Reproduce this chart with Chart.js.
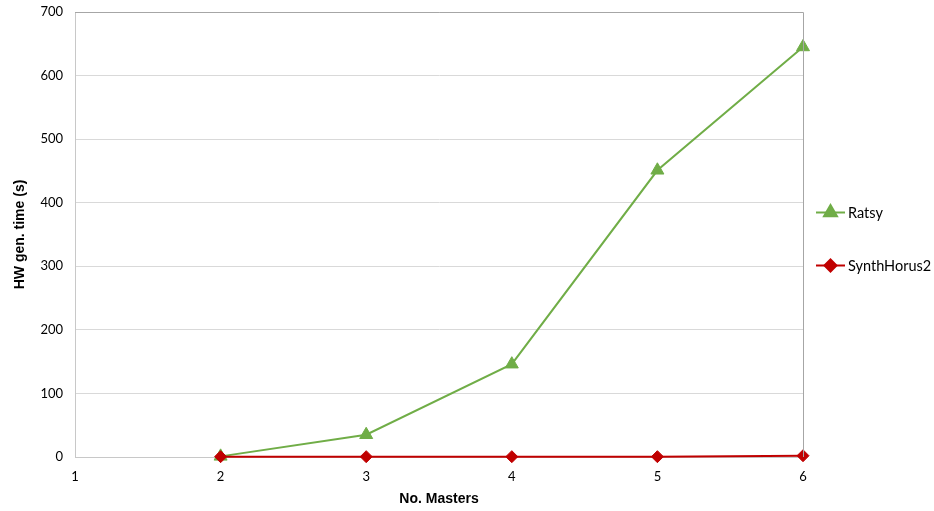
<!DOCTYPE html>
<html>
<head>
<meta charset="utf-8">
<script src="https://cdn.jsdelivr.net/npm/chart.js@4"></script>
<style>
  html, body { margin: 0; padding: 0; background: #fff; }
  #wrap { width: 934px; height: 511px; }
</style>
</head>
<body>
<div id="wrap"><canvas id="hw-chart"></canvas></div>
<script>
// number of masters on the x axis
const masters = [2, 3, 4, 5, 6];
// HW generation time in seconds
const ratsyTimes = [1, 35, 146, 451, 645];
const synthHorusTimes = [0.5, 0.5, 0.5, 0.5, 2];
const seriesNames = ['Ratsy', 'SynthHorus2'];

const GREEN = '#70ad47';
const RED = '#c00000';
const tickFont = { family: 'Lato, "Noto Sans", sans-serif', size: 13 };
const titleFont = { family: '"Liberation Sans", Arial, sans-serif', size: 14, weight: 'bold' };

function toPoints(xs, ys) {
    return xs.map(function (x, i) { return { x: x, y: ys[i] }; });
}

// top + right frame lines of the plot area
const frame = {
    id: 'frame',
    afterDraw: function (chart) {
        const a = chart.chartArea;
        const ctx = chart.ctx;
        ctx.save();
        ctx.strokeStyle = '#a6a6a6';
        ctx.lineWidth = 1;
        ctx.beginPath();
        ctx.moveTo(a.left, a.top + 0.5);
        ctx.lineTo(a.right + 0.5, a.top + 0.5);
        ctx.lineTo(a.right + 0.5, a.bottom);
        ctx.stroke();
        ctx.restore();
    }
};

// excel style legend: short line with the marker in the middle
const sideLegend = {
    id: 'sideLegend',
    afterDraw: function (chart) {
        const a = chart.chartArea;
        const ctx = chart.ctx;
        const gap = 53;
        const sets = chart.data.datasets;
        const y0 = (a.top + a.bottom) / 2 - 22;
        ctx.save();
        sets.forEach(function (ds, i) {
            const y = y0 + i * gap;
            const x = a.right + 13;
            ctx.strokeStyle = ds.borderColor;
            ctx.lineWidth = 2;
            ctx.beginPath();
            ctx.moveTo(x, y);
            ctx.lineTo(x + 29, y);
            ctx.stroke();
            Chart.helpers.drawPoint(ctx, {
                pointStyle: ds.pointStyle,
                radius: ds.pointRadius,
                rotation: 0,
                borderWidth: 1
            }, x + 14.5, y);
            ctx.fillStyle = ds.borderColor;
            ctx.fill();
            ctx.fillStyle = '#000';
            ctx.font = '14.5px ' + tickFont.family;
            ctx.textBaseline = 'middle';
            ctx.textAlign = 'left';
            ctx.fillText(ds.label, x + 32, y + 1);
        });
        ctx.restore();
    }
};

const ctx = document.getElementById('hw-chart').getContext('2d');
new Chart(ctx, {
    type: 'line',
    data: {
        datasets: [{
            label: seriesNames[0],
            data: toPoints(masters, ratsyTimes),
            borderColor: GREEN,
            backgroundColor: GREEN,
            borderWidth: 2,
            pointStyle: 'triangle',
            pointRadius: 7.5,
            pointBorderWidth: 1,
            order: 1,
            clip: false
        }, {
            label: seriesNames[1],
            data: toPoints(masters, synthHorusTimes),
            borderColor: RED,
            backgroundColor: RED,
            borderWidth: 2,
            pointStyle: 'rectRot',
            pointRadius: 6,
            pointBorderWidth: 1,
            order: 0,
            clip: false
        }]
    },
    options: {
        responsive: true,
        maintainAspectRatio: false,
        animation: false,
        layout: { padding: { top: 12, right: 131, left: 8, bottom: 0 } },
        plugins: {
            legend: { display: false },
            tooltip: { enabled: false }
        },
        scales: {
            x: {
                type: 'linear',
                min: 1,
                max: 6,
                ticks: { stepSize: 1, font: tickFont, color: '#000', padding: 12 },
                grid: { display: false, drawTicks: false },
                border: { color: '#c8c8c8' },
                title: { display: true, text: 'No. Masters', font: titleFont, color: '#000', padding: { top: 4, bottom: 3 } },
                afterFit: function (scale) { scale.height = 54; }
            },
            y: {
                min: 0,
                max: 700,
                ticks: { stepSize: 100, font: tickFont, color: '#000', padding: 12 },
                grid: { color: '#d9d9d9', drawTicks: false },
                border: { color: '#c8c8c8' },
                title: { display: true, text: 'HW gen. time (s)', font: titleFont, color: '#000', padding: { bottom: 14 } },
                afterFit: function (scale) {
                    scale.width = 67;
                    scale.paddingTop = 0;
                }
            }
        }
    },
    plugins: [frame, sideLegend]
});
</script>
</body>
</html>
